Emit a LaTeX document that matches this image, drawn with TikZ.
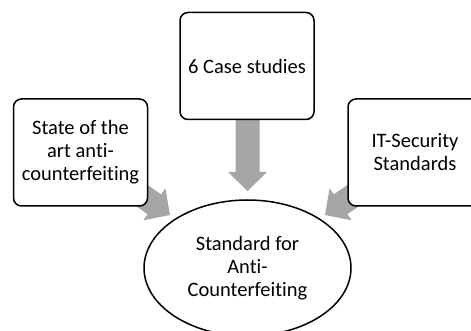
\documentclass[tikz,border=0pt]{standalone}
\usepackage{fontspec}
\setmainfont[Ligatures=NoCommon]{Carlito}
\usetikzlibrary{shapes.geometric}
\definecolor{arrowgray}{HTML}{A6A6A6}
\tikzset{
  box/.style={draw, line width=1.5pt, rounded corners=8pt, fill=white,
    minimum width=134pt, minimum height=107pt, align=center, inner sep=2pt,
    font=\fontsize{20.5}{23}\selectfont},
  goal/.style={draw, line width=1.5pt, ellipse, fill=white,
    minimum width=207pt, minimum height=136pt, align=center, inner sep=0pt,
    font=\fontsize{20.5}{23}\selectfont},
  bigarrow/.style={fill=arrowgray, draw=none}
}
\newcommand{\blockarrow}[3]{% tip coordinate, angle, shaft length
  \begin{scope}[shift={(#1)}, rotate=#2]
    \fill[arrowgray] (0,0) -- (-19pt,19.5pt) -- (-19pt,12pt) -- (-#3pt,12pt)
      -- (-#3pt,-12pt) -- (-19pt,-12pt) -- (-19pt,-19.5pt) -- cycle;
  \end{scope}}
\begin{document}
\begin{tikzpicture}[x=1pt,y=1pt]
\useasboundingbox (0,0) rectangle (471,-331);
\coordinate (tipT) at (247.5,-191);
\coordinate (tipL) at (170,-215);
\coordinate (tipR) at (325,-215);
\blockarrow{tipT}{-90}{80}
\blockarrow{tipL}{-34.5}{60}
\blockarrow{tipR}{-145.5}{60}
\node[box] (cases) at (247,-66) {6 Case studies};
\node[box] (state) at (80.5,-152.5) {State of the\\art anti-\\counterfeiting};
\node[box] (itsec) at (415,-152.5) {IT-Security\\Standards};
\node[goal] (std) at (247.5,-268) {Standard for\\Anti-\\Counterfeiting};
\end{tikzpicture}
\end{document}
